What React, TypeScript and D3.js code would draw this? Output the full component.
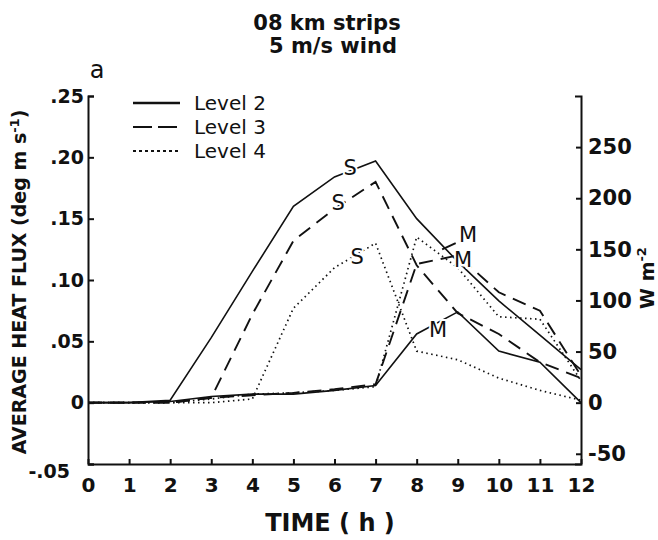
import React, { useEffect, useRef } from 'react';
import * as d3 from 'd3';

// hourly values, heat flux in deg m s^-1
const hours = [0, 1, 2, 3, 4, 5, 6, 7, 8, 9, 10, 11, 12];
const level2S = [0, 0, 0.002, 0.053, 0.107, 0.16, 0.184, 0.197, 0.15, 0.115, 0.083, 0.055, 0.027];
const level2M = [0, 0, 0.001, 0.005, 0.007, 0.007, 0.01, 0.014, 0.056, 0.074, 0.042, 0.033, 0.0];
const level3S = [0, 0, 0, 0.004, 0.072, 0.132, 0.158, 0.18, 0.112, 0.073, 0.056, 0.033, 0.02];
const level3M = [0, 0, 0, 0.004, 0.006, 0.008, 0.011, 0.015, 0.113, 0.12, 0.09, 0.075, 0.022];
const level4S = [0, 0, 0, 0, 0.003, 0.077, 0.11, 0.13, 0.042, 0.035, 0.02, 0.01, 0.002];
const level4M = [0, 0, 0, 0.003, 0.007, 0.008, 0.01, 0.013, 0.135, 0.11, 0.07, 0.068, 0.018];

const leftTicks = [-0.05, 0, 0.05, 0.1, 0.15, 0.2, 0.25];
const leftTickLabels = ['-.05', '0', '.05', '.10', '.15', '.20', '.25'];
const rightTicks = [-50, 0, 50, 100, 150, 200, 250];
const legendNames = ['Level 2', 'Level 3', 'Level 4'];

// curve labels: text, hour, flux
const curveLabels: [string, number, number][] = [
  ['S', 6.38, 0.191],
  ['S', 6.09, 0.163],
  ['S', 6.55, 0.119],
  ['M', 9.25, 0.137],
  ['M', 9.13, 0.116],
  ['M', 8.52, 0.059],
];

const FONT = 'DejaVu Sans, sans-serif';

const App = () => {
  const svgRef = useRef<SVGSVGElement>(null);

  useEffect(() => {
    const svg = d3.select(svgRef.current);
    svg.selectAll('*').remove();

    const x = d3.scaleLinear().domain([0, 12]).range([88, 581]);
    const y = d3.scaleLinear().domain([-0.05, 0.25]).range([464, 96]);
    // W m^-2 = flux * rho * cp (~1200)
    const yW = d3.scaleLinear().domain([-0.05 * 1200, 0.25 * 1200]).range([464, 96]);

    const styles = [
      { dash: null, width: 1.6 },
      { dash: '14,8', width: 1.9 },
      { dash: '1.5,3.5', width: 1.7 },
    ];
    const series = [
      { vals: level2S, s: 0 },
      { vals: level2M, s: 0 },
      { vals: level3S, s: 1 },
      { vals: level3M, s: 1 },
      { vals: level4S, s: 2 },
      { vals: level4M, s: 2 },
    ];

    const line = d3
      .line<number>()
      .x((d, i) => x(hours[i]))
      .y((d) => y(d));

    series.forEach((d) => {
      svg
        .append('path')
        .attr('d', line(d.vals))
        .attr('fill', 'none')
        .attr('stroke', '#111')
        .attr('stroke-width', styles[d.s].width)
        .attr('stroke-dasharray', styles[d.s].dash);
    });

    // leader for the top M label
    svg
      .append('line')
      .attr('x1', x(8.62))
      .attr('y1', y(0.125))
      .attr('x2', x(8.95))
      .attr('y2', y(0.13))
      .attr('stroke', '#111')
      .attr('stroke-width', 2);

    svg
      .selectAll('.clabel')
      .data(curveLabels)
      .join('text')
      .attr('class', 'clabel')
      .attr('x', (d) => x(d[1]))
      .attr('y', (d) => y(d[2]))
      .attr('text-anchor', 'middle')
      .attr('dominant-baseline', 'central')
      .attr('font-family', FONT)
      .attr('font-size', 21)
      .attr('stroke', 'white')
      .attr('stroke-width', 4)
      .attr('paint-order', 'stroke')
      .attr('fill', '#111')
      .text((d) => d[0]);

    // axes
    const left = svg
      .append('g')
      .attr('transform', 'translate(88,0)')
      .call(
        d3
          .axisLeft(y)
          .tickValues(leftTicks)
          .tickFormat((d, i) => leftTickLabels[i])
          .tickSizeInner(-6)
          .tickSizeOuter(-6)
          .tickPadding(4)
      );
    const bottom = svg
      .append('g')
      .attr('transform', 'translate(0,464)')
      .call(
        d3
          .axisBottom(x)
          .tickValues(hours)
          .tickFormat((d) => String(d))
          .tickSizeInner(-5)
          .tickSizeOuter(0)
          .tickPadding(14)
      );
    const right = svg
      .append('g')
      .attr('transform', 'translate(581,0)')
      .call(
        d3
          .axisRight(yW)
          .tickValues(rightTicks)
          .tickFormat((d) => String(d))
          .tickSizeInner(-5)
          .tickSizeOuter(-6)
          .tickPadding(7)
      );

    [left, bottom, right].forEach((g) => {
      g.selectAll('path,line').attr('stroke', '#111').attr('stroke-width', 2);
      g.selectAll('text')
        .attr('font-family', FONT)
        .attr('font-weight', 'bold')
        .attr('fill', '#111');
    });
    left.selectAll('text').attr('font-size', 19);
    left
      .selectAll('text')
      .filter((d) => d === -0.05)
      .attr('x', -18)
      .attr('dy', '0.7em');
    bottom.selectAll('text').attr('font-size', 20);
    right.selectAll('text').attr('font-size', 21).attr('text-anchor', 'start');

    // legend
    const legend = svg.append('g');
    legendNames.forEach((name, i) => {
      const ly = 103 + i * 24;
      legend
        .append('line')
        .attr('x1', 133)
        .attr('x2', 180)
        .attr('y1', ly)
        .attr('y2', ly)
        .attr('stroke', '#111')
        .attr('stroke-width', i === 0 ? 2.4 : 2.2)
        .attr('stroke-dasharray', i === 1 ? '19,6' : i === 2 ? '3,3' : null);
      legend
        .append('text')
        .attr('x', 194)
        .attr('y', ly)
        .attr('dominant-baseline', 'central')
        .attr('font-family', FONT)
        .attr('font-size', 20)
        .attr('fill', '#111')
        .text(name);
    });

    // titles
    const t = svg
      .append('g')
      .attr('font-family', FONT)
      .attr('fill', '#111')
      .attr('text-anchor', 'middle');
    t.append('text')
      .attr('x', 327)
      .attr('y', 30)
      .attr('font-size', 21)
      .attr('font-weight', 'bold')
      .text('08 km strips');
    t.append('text')
      .attr('x', 333)
      .attr('y', 53)
      .attr('font-size', 21)
      .attr('font-weight', 'bold')
      .text('5 m/s wind');
    t.append('text').attr('x', 97).attr('y', 78).attr('font-size', 24).text('a');
    t.append('text')
      .attr('x', 330)
      .attr('y', 531)
      .attr('font-size', 24)
      .attr('font-weight', 'bold')
      .text('TIME ( h )');

    const yl = t
      .append('text')
      .attr('transform', 'translate(26,282) rotate(-90)')
      .attr('font-size', 19)
      .attr('font-weight', 'bold');
    yl.append('tspan').text('AVERAGE HEAT FLUX (deg m s');
    yl.append('tspan').attr('dy', -7).attr('font-size', 13).text('-1');
    yl.append('tspan').attr('dy', 7).text(')');

    const wl = t
      .append('text')
      .attr('transform', 'translate(654,278) rotate(-90)')
      .attr('font-size', 19)
      .attr('font-weight', 'bold');
    wl.append('tspan').text('W m');
    wl.append('tspan').attr('dy', -8).attr('font-size', 13).text('-2');
  }, []);

  return (
    <svg
      ref={svgRef}
      width={658}
      height={540}
      style={{ position: 'absolute', left: 0, top: 0, background: 'white' }}
    />
  );
};

export default App;
